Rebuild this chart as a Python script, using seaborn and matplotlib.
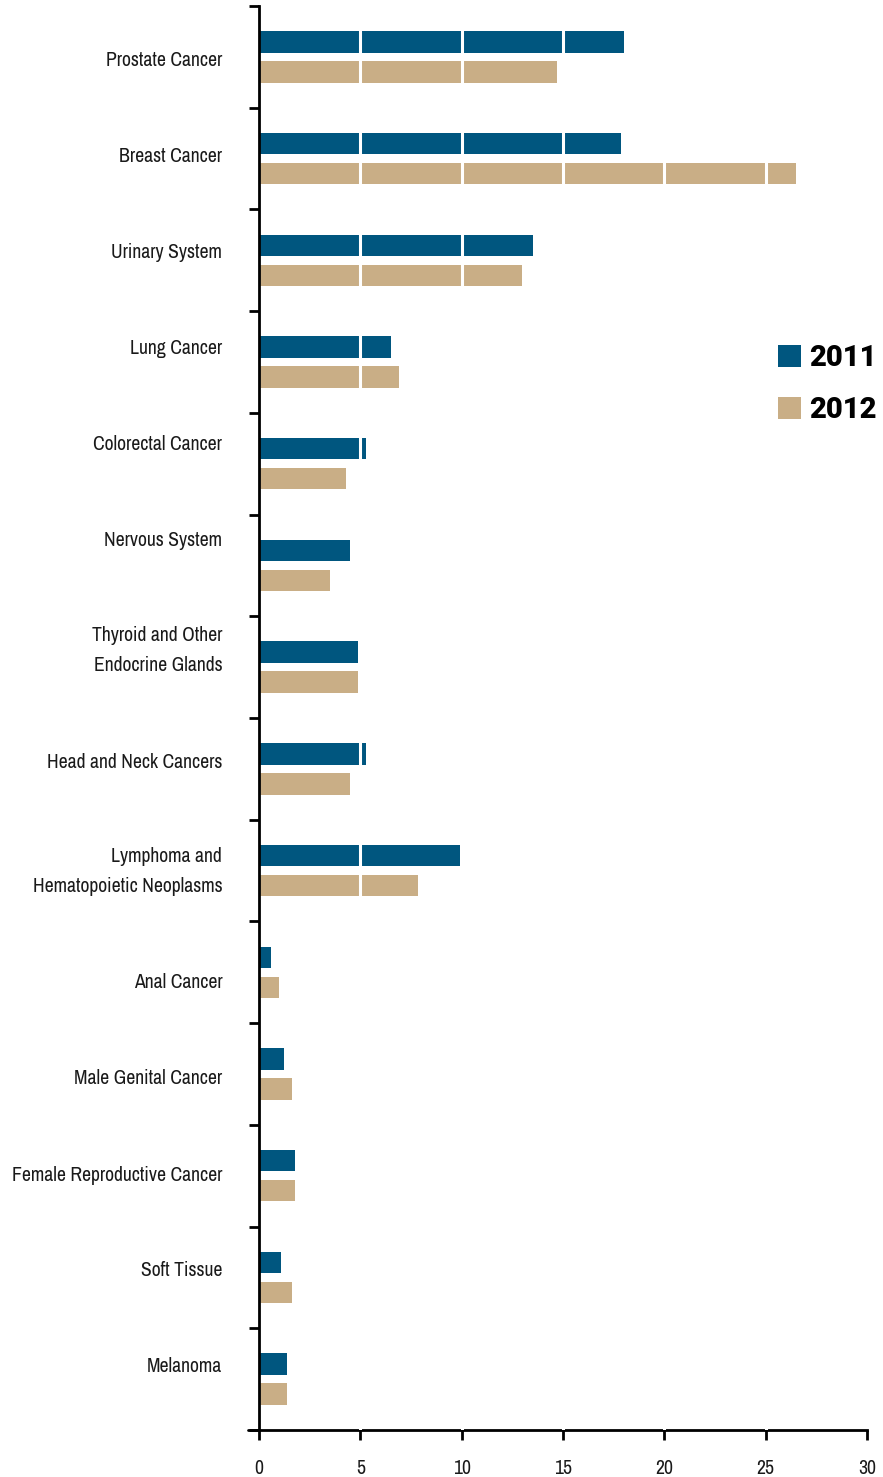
import matplotlib
matplotlib.use("Agg")
import matplotlib.pyplot as plt
import seaborn as sns
import pandas as pd
import numpy as np
from matplotlib.lines import Line2D
from matplotlib import font_manager as fm

categories = ["Prostate Cancer", "Breast Cancer", "Urinary System", "Lung Cancer",
              "Colorectal Cancer", "Nervous System", "Thyroid and Other\nEndocrine Glands",
              "Head and Neck Cancers", "Lymphoma and\nHematopoietic Neoplasms", "Anal Cancer",
              "Male Genital Cancer", "Female Reproductive Cancer", "Soft Tissue", "Melanoma"]
values_2011 = [18.0, 17.85, 13.5, 6.5, 5.3, 4.5, 4.9, 5.3, 9.9, 0.6, 1.25, 1.8, 1.1, 1.4]
values_2012 = [14.7, 26.5, 13.0, 6.9, 4.3, 3.5, 4.9, 4.5, 7.85, 1.0, 1.65, 1.8, 1.65, 1.4]
years = ["2011", "2012"]
x_ticks = [0, 5, 10, 15, 20, 25, 30]
colors = {"2011": "#00567F", "2012": "#C9AE86"}

df = pd.DataFrame({
    "category": categories * 2,
    "value": values_2011 + values_2012,
    "year": [years[0]] * len(categories) + [years[1]] * len(categories),
})

# pick a condensed font if one is installed
label_font = None
label_stretch = "normal"
for f in fm.fontManager.ttflist:
    nm = f.name
    if ("Narrow" in nm or "Condensed" in nm) and f.style == "normal":
        label_font = nm
        break
if label_font is None:
    for f in fm.fontManager.ttflist:
        st = f.stretch
        if (isinstance(st, str) and "condensed" in st) or (isinstance(st, int) and st < 500):
            if f.style == "normal":
                label_font = f.name
                label_stretch = "condensed"
                break
if label_font is None:
    label_font = "Liberation Sans"
    label_size = 12.5
else:
    label_size = 14.2

sns.set_style("white")
plt.rcParams['font.family'] = [label_font, 'DejaVu Sans']
plt.rcParams['font.stretch'] = label_stretch
plt.rcParams['text.color'] = '#1a1a1a'
plt.rcParams['xtick.color'] = 'black'
plt.rcParams['ytick.color'] = 'black'
plt.rcParams['xtick.labelcolor'] = '#1a1a1a'
plt.rcParams['ytick.labelcolor'] = '#1a1a1a'

W, H = 883, 1477
fig = plt.figure(figsize=(W / 100, H / 100), dpi=100)
ax_top_px, ax_bot_px = 6, 1430
ax = fig.add_axes([259/W, 1 - ax_bot_px/H, (867 - 259)/W, (ax_bot_px - ax_top_px)/H])

sns.barplot(data=df, y="category", x="value", hue="year", orient="h",
            palette=colors, width=0.59, gap=0.29, ax=ax, saturation=1,
            edgecolor="none", linewidth=0)

n = len(categories)
ax.set_xlim(0, 30)
ax.set_ylim(n - 0.5, -0.5)

# white separators over bars
ax.vlines(x_ticks[1:-1], -0.5, n - 0.5, colors="white", linewidth=2.2, zorder=3)

ax.set_xticks(x_ticks)
ax.set_xticklabels([str(t) for t in x_ticks], fontsize=label_size)
ax.set_yticks(np.arange(-0.5, n, 1.0))
ax.set_yticklabels([])

# category labels laid out as a text stack (as in the reference layout)
slot_px = (ax_bot_px - ax_top_px) / n
first_px, step_px, line_px = 59, 96, 29
label_pos = []
extra = 0
for c in categories:
    nl = c.count("\n")
    px = first_px + step_px * len(label_pos) + line_px * extra + line_px * nl / 2 - 6.5 * nl
    label_pos.append(-0.5 + (px - ax_top_px) / slot_px)
    extra += nl
ax.set_yticks(label_pos, minor=True)
ax.set_yticklabels(categories, minor=True, fontsize=label_size, ha="right", linespacing=1.74)
ax.tick_params(axis="y", which="minor", left=True, length=0, pad=26.5)
ax.tick_params(axis="y", which="major", left=True, length=7, width=2, direction="out", color="black")
ax.tick_params(axis="x", which="major", bottom=True, length=7, width=2, direction="out",
               color="black", pad=14)

ax.set_xlabel("")
ax.set_ylabel("")
for s in ["top", "right"]:
    ax.spines[s].set_visible(False)
for s in ["left", "bottom"]:
    ax.spines[s].set_linewidth(2)
    ax.spines[s].set_color("black")

# extend x axis line slightly to the left of the y axis
ax.add_line(Line2D([-0.55, 0], [n - 0.5, n - 0.5], color="black", linewidth=2,
                   clip_on=False, transform=ax.transData))

handles, labels = ax.get_legend_handles_labels()
leg = ax.legend(handles, labels, loc="upper left", bbox_to_anchor=(778/W, 1 - 344/H),
                bbox_transform=fig.transFigure, frameon=False,
                prop={"weight": "heavy", "size": 21, "family": ["Roboto", "DejaVu Sans"],
                      "stretch": "normal"},
                handlelength=0.78, handleheight=0.78, handletextpad=0.3, labelspacing=0.82,
                borderpad=0, borderaxespad=0)
for t in leg.get_texts():
    t.set_color("black")

fig.savefig("out.png", dpi=100)
